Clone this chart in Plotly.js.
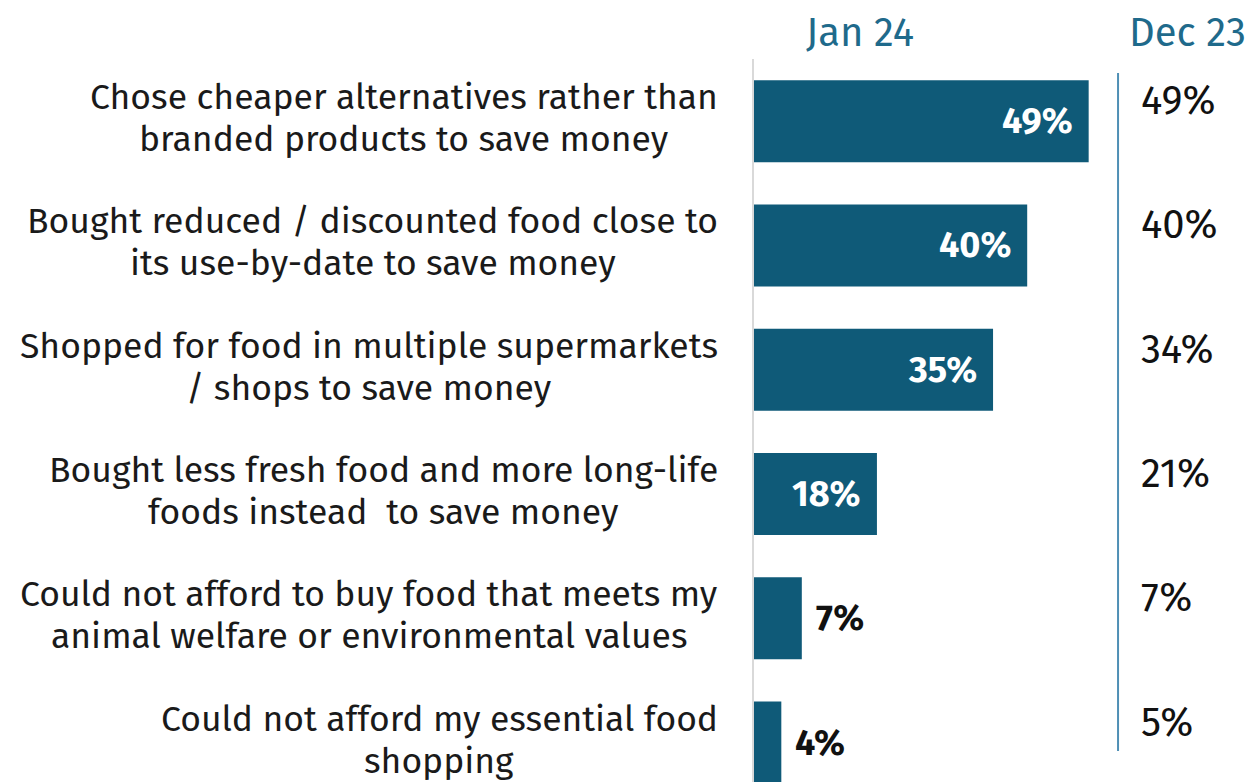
<!DOCTYPE html>
<html><head><meta charset="utf-8">
<script src="https://cdn.plot.ly/plotly-3.0.1.min.js"></script>
<style>html,body{margin:0;padding:0;background:#fff}#chart{width:1248px;height:782px}</style>
</head><body><div id="chart"></div>
<script>
const categories = [
  "Chose cheaper alternatives rather than<br>branded products to save money",
  "Bought reduced / discounted food close to<br>its use-by-date to save money",
  "Shopped for food in multiple supermarkets<br>/ shops to save money",
  "Bought less fresh food and more long-life<br>foods instead  to save money",
  "Could not afford to buy food that meets my<br>animal welfare or environmental values",
  "Could not afford my essential food<br>shopping"
];
const jan24 = [49, 40, 35, 18, 7, 4];
const dec23 = [49, 40, 34, 21, 7, 5];
const seriesNames = ["Jan 24", "Dec 23"];

const FONT = "Fira Sans, Open Sans, Noto Sans, sans-serif";
const LABEL_SIZE = 35.5;
const BAR = "#0f5a78";
const HEAD = "#1f6a8b";
const W = 1248, H = 782, ML = 754, MT = 59;
const PX = 6.83; // pixels per percent
const LABEL_RIGHT = 718;

const ctx = document.createElement("canvas").getContext("2d");
ctx.font = LABEL_SIZE + "px " + FONT;
const measure = s => ctx.measureText(s.replace(/&nbsp;/g, " ")).width;

const annotations = [];
// category labels: each line centred within a block whose right edge is near the axis
categories.forEach((c, i) => {
  const lines = c.split("<br>");
  const maxW = Math.max(...lines.map(measure));
  const cx = LABEL_RIGHT - maxW / 2;
  const shifts = lines.length === 2 ? [24, -18] : [3];
  lines.forEach((ln, k) => {
    annotations.push({
      x: (cx - ML) / (W - ML), y: c, xref: "paper", yref: "y",
      text: ln, showarrow: false, xanchor: "center", yanchor: "middle",
      yshift: shifts[k],
      font: {family: FONT, size: LABEL_SIZE, color: "#1a1a1a"}
    });
  });
});
// Jan 24 values
jan24.forEach((v, i) => {
  const inside = v >= 15;
  annotations.push({
    x: v, y: categories[i], xref: "x", yref: "y",
    text: "<b>" + v + "%</b>", showarrow: false,
    xanchor: inside ? "right" : "left", xshift: inside ? -14 : 12,
    font: {family: FONT, size: 36, color: inside ? "#ffffff" : "#111111"}
  });
});
// Dec 23 values
dec23.forEach((v, i) => {
  annotations.push({
    x: 56.3, y: categories[i], xref: "x", yref: "y",
    text: v + "%", showarrow: false, xanchor: "left", yshift: 20,
    font: {family: FONT, size: 40, color: "#111111"}
  });
});
// column headers
[[seriesNames[0], 860], [seriesNames[1], 1187]].forEach(([t, px]) => {
  annotations.push({
    x: (px - ML) / (W - ML), y: 1 + (MT - 33) / (H - MT), xref: "paper", yref: "paper",
    text: t, showarrow: false, xanchor: "center", yanchor: "middle",
    font: {family: FONT, size: 40, color: HEAD}
  });
});

const data = [{
  type: "bar", orientation: "h",
  x: jan24, y: categories,
  marker: {color: BAR},
  hoverinfo: "skip"
}];

const layout = {
  width: W, height: H,
  margin: {l: ML, r: 0, t: MT, b: 0, pad: 0},
  paper_bgcolor: "#ffffff", plot_bgcolor: "#ffffff",
  showlegend: false, bargap: 0.34,
  xaxis: {range: [0, (W - ML) / PX], visible: false, fixedrange: true},
  yaxis: {
    type: "category", autorange: false, range: [5.317, -0.5],
    showline: true, linecolor: "#d9d9d9", linewidth: 2,
    showgrid: false, zeroline: false, ticks: "", showticklabels: false,
    automargin: false
  },
  shapes: [{
    type: "line", xref: "x", yref: "paper",
    x0: 53.3, x1: 53.3, y0: 1 - (73 - MT) / (H - MT), y1: 1 - (751 - MT) / (H - MT),
    line: {color: "#4f8fb5", width: 2}
  }],
  annotations: annotations
};

Plotly.newPlot("chart", data, layout, {displayModeBar: false, staticPlot: true});
</script></body></html>
